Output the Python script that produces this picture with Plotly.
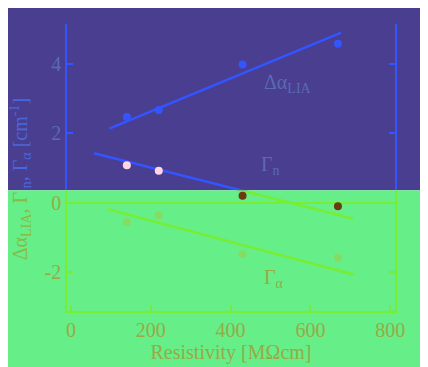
import plotly.graph_objects as go

# ---- data ----
resistivity = [140, 220, 430, 669]
delta_alpha_lia = [2.48, 2.68, 4.0, 4.6]
gamma_n = [1.08, 0.92, 0.2, -0.11]
gamma_alpha = [-0.56, -0.37, -1.5, -1.6]

fit_dalpha_x = [96, 677]
fit_dalpha_y = [2.14, 4.92]
fit_gn_x = [58, 708]
fit_gn_y = [1.43, -0.47]
fit_ga_x = [92, 710]
fit_ga_y = [-0.19, -2.09]

x_ticks = [0, 200, 400, 600, 800]
y_ticks = [-2, 0, 2, 4]
y_tick_text = ['-2', '0', '2', '4']

# ---- style ----
PURPLE = '#4a3e90'
GREEN_BG = '#66ee88'
BLUE = '#3355ff'
GREEN = '#77ee33'
TOP_TXT = '#5a6ab4'
BOT_TXT = '#99aa44'
FONT = 'Liberation Serif'
FS = 20

Y_MIN, Y_MAX = -3.14, 5.17
Y_SPLIT = 0.358
split = (Y_SPLIT - Y_MIN) / (Y_MAX - Y_MIN)
X_RANGE = [-10, 812]

fig = go.Figure()

regions = [
    # (yaxis, line colour, colours for dalpha, gamma_n, gamma_alpha)
    ('y2', BLUE, BLUE, '#ffd6e6', '#cc99ff'),
    ('y', GREEN, GREEN, '#6b3a0e', '#84dc62'),
]
for ya, lc, c_da, c_gn, c_ga in regions:
    for fx, fy in [(fit_dalpha_x, fit_dalpha_y), (fit_gn_x, fit_gn_y), (fit_ga_x, fit_ga_y)]:
        fig.add_trace(go.Scatter(x=fx, y=fy, mode='lines', xaxis='x', yaxis=ya,
                                 line=dict(color=lc, width=2.5), showlegend=False,
                                 hoverinfo='skip'))
    for vals, col in [(delta_alpha_lia, c_da), (gamma_n, c_gn), (gamma_alpha, c_ga)]:
        fig.add_trace(go.Scatter(x=resistivity, y=vals, mode='markers', xaxis='x', yaxis=ya,
                                 marker=dict(color=col, size=8), showlegend=False,
                                 cliponaxis=True))

common_y = dict(tickmode='array', tickvals=y_ticks, ticktext=y_tick_text, ticks='inside',
                ticklen=6, tickwidth=1.5, showline=True, linewidth=1.5, mirror='ticks',
                showgrid=False)

fig.update_layout(
    width=428, height=367,
    margin=dict(l=59, r=41, t=16, b=64),
    paper_bgcolor='white', plot_bgcolor='rgba(0,0,0,0)',
    showlegend=False,
    xaxis=dict(range=X_RANGE, anchor='y', tickmode='array', tickvals=x_ticks,
               ticks='inside', ticklen=6, tickwidth=1.5, tickcolor=GREEN,
               showline=True, linewidth=1.5, linecolor=GREEN, showgrid=False, zeroline=False,
               tickfont=dict(family=FONT, size=FS, color=BOT_TXT),
               title=dict(text='Resistivity [MΩcm]', font=dict(family=FONT, size=FS, color=BOT_TXT),
                          standoff=4)),
    xaxis2=dict(range=X_RANGE, anchor='y2', side='top', matches='x', tickmode='array',
                tickvals=x_ticks, ticks='inside', ticklen=6, tickwidth=1.5, tickcolor=BLUE,
                showline=True, linewidth=1.5, linecolor=BLUE, showgrid=False, zeroline=False,
                showticklabels=False),
    yaxis=dict(domain=[0, split], range=[Y_MIN, Y_SPLIT], tickcolor=GREEN, linecolor=GREEN,
               zeroline=True, zerolinecolor=GREEN, zerolinewidth=2,
               tickfont=dict(family=FONT, size=FS, color=BOT_TXT), **common_y),
    yaxis2=dict(domain=[split, 1], range=[Y_SPLIT, Y_MAX], tickcolor=BLUE, linecolor=BLUE,
                zeroline=False,
                tickfont=dict(family=FONT, size=FS, color=TOP_TXT), **common_y),
    shapes=[
        dict(type='rect', xref='paper', yref='paper', x0=-0.3, x1=1.2, y0=split, y1=1.2,
             fillcolor=PURPLE, line=dict(width=0), layer='below'),
        dict(type='rect', xref='paper', yref='paper', x0=-0.3, x1=1.2, y0=-0.3, y1=split,
             fillcolor=GREEN_BG, line=dict(width=0), layer='below'),
    ],
    annotations=[
        dict(text='Δα<sub>LIA</sub>', x=545, y=3.46, xref='x', yref='y2', showarrow=False,
             font=dict(family=FONT, size=FS, color=TOP_TXT)),
        dict(text='Γ<sub>n</sub>', x=500, y=1.08, xref='x', yref='y2', showarrow=False,
             font=dict(family=FONT, size=FS, color=TOP_TXT)),
        dict(text='Γ<sub>α</sub>', x=510, y=-2.2, xref='x', yref='y', showarrow=False,
             font=dict(family=FONT, size=FS, color=BOT_TXT)),
        dict(text='Δα<sub>LIA</sub>, Γ', x=-0.14, y=split, xref='paper', yref='paper',
             xanchor='center', yanchor='top', textangle=-90, showarrow=False,
             font=dict(family=FONT, size=FS, color='#88bb44')),
        dict(text='<sub>n</sub>, Γ<sub>α</sub> [cm<sup>-1</sup>]', x=-0.14, y=split,
             xref='paper', yref='paper', xanchor='center', yanchor='bottom', textangle=-90,
             showarrow=False, font=dict(family=FONT, size=FS, color='#4a66dd')),
    ],
)

fig.write_html('out.html')
